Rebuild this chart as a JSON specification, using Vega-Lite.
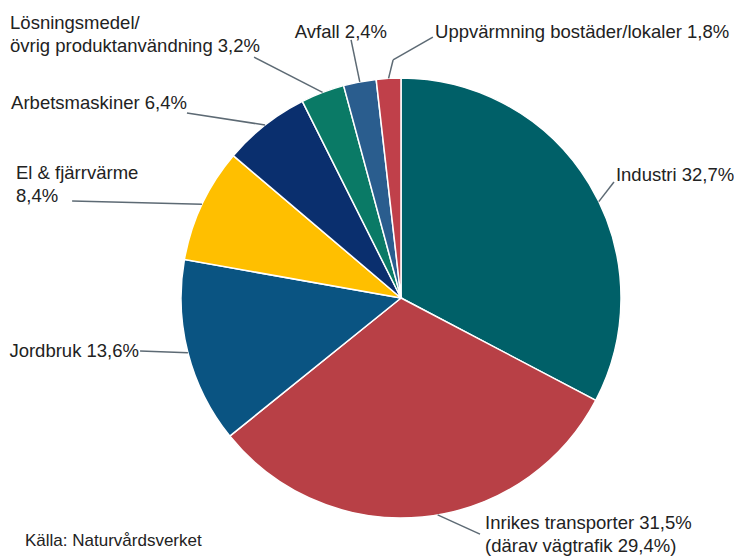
{
  "$schema": "https://vega.github.io/schema/vega-lite/v6.json",
  "width": 734,
  "height": 556,
  "padding": 0,
  "autosize": {"type": "none"},
  "background": "white",
  "config": {"view": {"stroke": null}, "axis": {"disable": true}},
  "title": {"text": "Källa: Naturvårdsverket", "orient": "bottom", "anchor": "start", "frame": "group", "offset": -23, "dx": 25, "fontSize": 17, "fontWeight": "normal", "font": "Liberation Sans", "color": "#222222"},
  "data": {"values": [
    {"cat": "ind", "label": "Industri 32,7%", "value": 32.7, "order": 1},
    {"cat": "inr", "label": "Inrikes transporter 31,5%\n(därav vägtrafik 29,4%)", "value": 31.5, "order": 2},
    {"cat": "jor", "label": "Jordbruk 13,6%", "value": 13.6, "order": 3},
    {"cat": "el", "label": "El & fjärrvärme\n8,4%", "value": 8.4, "order": 4},
    {"cat": "arb", "label": "Arbetsmaskiner 6,4%", "value": 6.4, "order": 5},
    {"cat": "los", "label": "Lösningsmedel/\növrig produktanvändning 3,2%", "value": 3.2, "order": 6},
    {"cat": "avf", "label": "Avfall 2,4%", "value": 2.4, "order": 7},
    {"cat": "upp", "label": "Uppvärmning bostäder/lokaler 1,8%", "value": 1.8, "order": 8}
  ]},
  "transform": [
    {"window": [{"op": "sum", "field": "value", "as": "cum"}], "sort": [{"field": "order"}]},
    {"calculate": "(datum.cum - datum.value / 2) / 100 * 2 * PI", "as": "ang"},
    {"calculate": "datum.cat == 'ind' ? datum.ang + 0.09 : datum.cat == 'inr' ? datum.ang - 0.07 : datum.ang", "as": "sang"},
    {"calculate": "sin(datum.sang)", "as": "ex"},
    {"calculate": "cos(datum.sang)", "as": "ey"},
    {"calculate": "datum.cat == 'upp' ? -0.036 : datum.ex", "as": "kx"},
    {"calculate": "datum.cat == 'upp' ? 1.082 : datum.ey", "as": "ky"},
    {"calculate": "{'ind': 0.968, 'inr': 0.359, 'jor': -1.186, 'el': -1.495, 'arb': -0.973, 'los': -0.668, 'avf': -0.227, 'upp': 0.145}[datum.cat]", "as": "lx"},
    {"calculate": "{'ind': 0.527, 'inr': -1.073, 'jor': -0.241, 'el': 0.441, 'arb': 0.841, 'los': 1.095, 'avf': 1.173, 'upp': 1.186}[datum.cat]", "as": "ly"},
    {"calculate": "{'ind': 0.977, 'inr': 0.382, 'jor': -1.191, 'el': -1.75, 'arb': -0.973, 'los': -1.777, 'avf': -0.273, 'upp': 0.155}[datum.cat]", "as": "tx"},
    {"calculate": "{'ind': 0.559, 'inr': -1.023, 'jor': -0.241, 'el': 0.566, 'arb': 0.886, 'los': 1.252, 'avf': 1.209, 'upp': 1.209}[datum.cat]", "as": "ty"},
    {"calculate": "{'ind': 'left', 'inr': 'left', 'jor': 'right', 'el': 'left', 'arb': 'right', 'los': 'left', 'avf': 'center', 'upp': 'left'}[datum.cat]", "as": "al"}
  ],
  "layer": [
    {
      "mark": {"type": "arc", "outerRadius": 220, "stroke": "white", "strokeWidth": 1.5},
      "encoding": {
        "x": {"datum": 0, "type": "quantitative", "scale": {"domain": [-1.82273, 1.51364], "nice": false, "zero": false}, "axis": null},
        "y": {"datum": 0, "type": "quantitative", "scale": {"domain": [-1.17273, 1.35455], "nice": false, "zero": false}, "axis": null},
        "theta": {"field": "value", "type": "quantitative", "stack": true},
        "order": {"field": "order", "type": "quantitative"},
        "color": {"field": "cat", "type": "nominal", "legend": null,
          "scale": {"domain": ["ind", "inr", "jor", "el", "arb", "los", "avf", "upp"],
                    "range": ["#006068", "#b84046", "#0a5482", "#ffbf00", "#0a2f6e", "#0a7a66", "#2a5d8e", "#c0404a"]}}
      }
    },
    {
      "mark": {"type": "rule", "stroke": "#5d6a74", "strokeWidth": 1.5},
      "encoding": {
        "x": {"field": "ex", "type": "quantitative"},
        "y": {"field": "ey", "type": "quantitative"},
        "x2": {"field": "kx"},
        "y2": {"field": "ky"}
      }
    },
    {
      "mark": {"type": "rule", "stroke": "#5d6a74", "strokeWidth": 1.5},
      "encoding": {
        "x": {"field": "kx", "type": "quantitative"},
        "y": {"field": "ky", "type": "quantitative"},
        "x2": {"field": "lx"},
        "y2": {"field": "ly"}
      }
    },
    {
      "mark": {"type": "text", "font": "Liberation Sans", "fontSize": 18.5, "color": "#222222", "baseline": "middle", "lineBreak": "\n", "lineHeight": 23, "align": {"expr": "datum.al"}},
      "encoding": {
        "x": {"field": "tx", "type": "quantitative"},
        "y": {"field": "ty", "type": "quantitative"},
        "text": {"field": "label"}
      }
    }
  ]
}
